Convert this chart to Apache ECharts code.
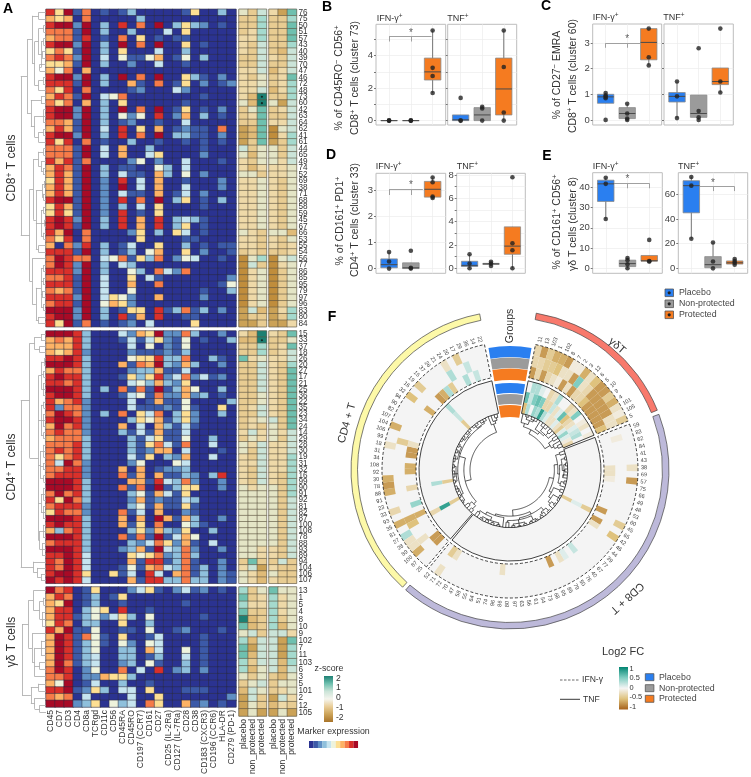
<!DOCTYPE html>
<html><head><meta charset="utf-8">
<script src="https://cdn.jsdelivr.net/npm/echarts@6/dist/echarts.min.js"></script>
<style>html,body{margin:0;background:#fff}#main{width:751px;height:777px}</style></head>
<body><div id="main"></div>
<script>
const markers=['CD45','CD7','CD3','CD4','CD8a','TCRgd','CD11c','CD56','CD45RA','CD45RO','CD197 (CCR7)','CD161','CD27','CD25 (IL-2Ra)','CD127 (IL-7Ra)','CD28','CD38','CD183 (CXCR3)','CD196 (CCR6)','HLA-DR','CD279 (PD-1)'];
const zGroups=['placebo','non_protected','protected'];
const idsCD8=[76,75,50,51,57,43,40,39,70,47,46,72,48,73,60,42,63,64,62,41,61,44,65,49,74,52,69,38,71,68,58,59,45,67,66,53,55,54,56,77,86,85,95,79,97,96,83,80,84];
const idsCD4=[15,33,37,18,26,20,27,17,21,25,36,22,35,23,34,24,14,29,28,30,19,31,32,16,99,90,91,92,81,82,87,100,108,78,88,93,89,94,104,106,107];
const idsGD=[13,1,5,4,8,10,9,102,7,11,103,6,3,5,101,2,12,105];
// marker expression level per cell (0 = lowest … a = highest)
const markerCD8=['96a180101300000160030','767080000030000000000','9aa2a0309080a03632010','8881a0300300040600000','788190108060101100000','9aa2a030a080a00601000','6861a0306000400300000','8982a0405115701503000','6671a0300200400100000','758070000000000000000','9aa2a030a080a00631020','9991a0300710801602012','869080000120004200000','7981a0458000000001000','868070306000000100000','9aa2a030a080a01601020','9aa2a0305250902703010','8871a0301200100400000','7971a0409060701211080','9aa2a0309080a03311020','969080100300100101010','8881a0407003000001000','8881a0407004600002000','979180000250200400010','7981a0301100530400000','7971a0304110730502000','6971a0209040700100020','7971a020a040700400020','7971a0204110701402000','9aa1a0209080a03601030','6971a0203040600001000','6961a0209010600000000','9a92a0309070903431000','9a91a0309070903601000','97a080000260306401000','869080000060000110000','708290301400600301011','9991a0301305700602001','8a9880458163802540010','8a92a0304300000000000','9992a0300530842800000','8891a0400604100000002','9991a0400700800000015','8781a0400500000001003','9992a0465200700002000','8991a0576200000000000','aaa2a0301660913813020','9aa2a0309170900110000','96a180101204000060000'];
const markerCD4=['aaa930004276a22830020','787930001414621501003','777930000405021500000','767920000211121300000','99a930000566933800310','aaa930007187a32730020','798830000233711400000','9a9930001636924824120','998930000453732600000','aaa930308181a13750030','9aa930001451822723010','978920000401711500003','928820000411121510060','8a9820308064803620030','9aa920000365713620000','7a8920007040731410000','898820003141711400000','788830000314611500300','888930000316841800400','898930000312770400010','868930000416032700400','84a820000250005400000','889920007070122300000','899920008170711320390','aaa930000771943820020','aaa930008180a13660020','8a8930000351741600000','96a830000271211430000','899920000351711610000','698820008140700210000','aaa930007070a71730020','9a9930007160800531000','738930000362732600300','aaa930008181a14750000','899930000324862710400','aaa930002371a43820020','99a940000656823830000','98a940000719913810020','98a940001517843813020','9aa960061409407813021','a9a940000719933833021'];
const markerGD=['a89016000246102412010','798013016000000000000','76a013001000000100000','799035609001000000000','799135246305000001000','698033006003000000000','97a115001105001200010','7a9185106001400001000','7a9135105205400001000','7a9135003307400501000','7a9134003301300401000','7a8134002305100301000','8a9025008040902302000','889022766300000000000','75a014003001000000000','99a126304406000111000','878040000400600000002','aaa236053408600712010'];
// z-score level per cell, 0 = -2 … 9 = +2 (IFN placebo/non/prot then TNF placebo/non/prot)
const zCD8=['536418','337337','337338','347338','447338','436337','436326','336436','336336','446246','435348','445347','446247','429337','529516','358346','348336','338446','128056','128047','138137','635536','525536','435546','424445','553445','445435','445435','445435','445435','445435','445435','445435','445435','543552','443435','443434','343334','057056','063045','045035','045035','045035','045035','045035','045035','162147','133137','113114'];
const zCD4=['429438','229335','337348','337346','845446','336437','336438','336438','336438','336438','335438','335438','346438','336438','345638','343538','464546','354536','546446','536446','436447','446447','436447','436437','436437','545537','555537','555536','555536','555536','555536','555536','555536','555536','555536','554436','554436','383363','461433','542533','542433'];
const zGD=['735855','834745','744745','833745','923735','823725','563664','726618','816617','826617','736627','725626','535325','356355','265345','163164','153243','151151'];
const sigCD8=[[2,13],[2,14]];
const sigCD4=[[2,1]];
// dendrograms: [height, child, child, ...], 0 = leaf
const treeCD8=[1,[.75,[.55,[.3,0,0],[.45,[.3,[.1,0,0],[.2,[.1,0,0],[.15,0,0],[.25,0,0]]],[.3,[.12,0,0],0]]],[.6,[.2,0,0],[.45,[.1,0,0,0],[.3,[.1,0,0],0]]]],[.65,[.5,[.3,[.1,0,0],[.2,0,[.12,0,0]]],[.4,[.15,[.08,0,0],[.1,0,0]],[.2,[.1,0,0],[.05,0,0],[.1,0,0]],[.3,0,0]]],[.55,0,[.4,[.2,[.1,0,0],[.12,0,0],[.15,0,0],[.1,0,0]],[.3,0,0]]]]];
const treeCD4=[1,[.65,[.45,[.2,0,0],[.25,0,0]],[.3,[.18,[.08,0,0],[.1,0,0],[.12,0,0,0]],[.2,[.1,0,0],[.12,0,0,0],[.1,0,0]],[.22,[.1,0,0,0],[.12,0,0],[.1,0,0]],[.2,[.1,0,0,0],[.12,0,0,0]],[.25,[.12,0,0,0],[.15,0,0,0]]]],[.5,0,[.35,0,[.2,0,0]]]];
const treeGD=[.95,[.7,[.5,0,[.25,[.1,0,0],[.15,0,0,0]]],[.55,0,[.45,[.2,0,0,0],[.25,0,0],0]]],[.6,[.3,0,0],[.45,0,[.25,0,0]]]];
// box panels: [min,q1,median,q3,max] per group; points per group
const groupNames=['Placebo','Non-protected','Protected'];
const boxBI=[[0,0,0,0,0],[0,0,0,0,0],[1.7,2.5,3,3.85,5.55]], ptsBI=[[0,0,0],[0,0,0],[1.7,2.75,3.25,5.55]];
const boxBT=[[0,0,.05,.35,.35],[0,0,.35,.8,.85],[0,.35,1.95,3.85,5.55]], ptsBT=[[0,0,1.4],[0,.75,.85],[0,.5,3.3,5.55]];
const boxCI=[[.65,.65,.9,1,1.05],[0,.05,.25,.48,.63],[2.13,2.35,3.03,3.57,3.57]], ptsCI=[[0,.85,.9,.95,1.05],[0,.05,.25,.63],[2.13,2.45,3.57]];
const boxCT=[[.07,.7,.92,1.07,1.5],[0,.1,.25,.97,.97],[1.07,1.38,1.5,2.03,2.03]], ptsCT=[[.07,.92,1.5],[0,.1,.35,2.8],[1.07,1.5,3.57]];
const boxDI=[[0,.03,.15,.37,.63],[0,0,.03,.22,.22],[2.7,2.73,3.03,3.33,3.48]], ptsDI=[[0,.27,.63],[0,.03,.68],[2.7,2.75,3.3,3.48]];
const boxDT=[[0,.15,.25,.6,1.2],[.2,.33,.38,.42,.55],[0,1.2,1.9,3.55,3.55]], ptsDT=[[0,.4,1.2],[.2,.4,.55],[0,1.55,2.15,7.8]];
const boxEI=[[24.3,33,41.7,43.5,44.7],[0,.8,2.3,4,5],[3.3,3.5,3.7,6.3,6.3]], ptsEI=[[24.3,41.7,44.7],[0,2,4,5],[3.3,3.5,14]];
const boxET=[[24,45,67,71,74],[0,.5,3,9.5,21],[3,3.5,4.5,6,7.5]], ptsET=[[24,67,74],[0,5.5,21],[3,4.5,6,7.5]];
// circular panel: cluster order and log2 FC
const circGD=[11,13,103,1,102,8,7,2,3,12,6,5,10,9,4,101,105,5];
const circCD8=[59,83,62,84,41,43,38,69,57,75,66,49,48,53,60,45,65,42,46,44,39,77,67,40,76,50,79,85,95,68,73,54,61,56,63,97,80,86,96,74,51,64,55,58,47,70,72,71,52];
const circCD4=[25,87,100,89,28,27,81,35,93,33,23,91,88,78,30,92,108,34,31,18,99,106,104,107,82,90,94,32,16,19,15,37,26,21,24,20,17,29,36,14,22];
const fcIfnGD=[[-.3,-.3,-.7],[-.7,-.3,-.3],[-.4,-.4,-.7],[-.6,-.4,-.3],[-.6,-.5,-.2],[-.7,-.2,-.1],[-.1,-.2,-.7],[-.1,-.7,-.2],[-.6,.5,-.7],[-.2,-.2,-.3],[-.5,-.3,-.3],[-.7,-.7,-.5],[-.7,-.7,-.7],[-.4,-.7,-.7],[-.6,-.7,-.7],[-.2,-.7,-.7],[-.1,-.2,-.7],[-.4,-.2,-.5]];
const fcTnfGD=[[0,.6,-.5],[.3,.2,.3],[.3,.5,0],[.1,.6,.4],[0,.5,.3],[-.3,-.3,.8],[-.2,-.3,.3],[.3,.2,.1],[0,-.2,-.2],[0,.1,-.2],[-.3,.6,.1],[-.2,-.5,-.2],[.5,-.3,-.4],[0,-.2,.1],[-.1,.1,.4],[-.2,.2,.1],[0,.3,-.1],[-.1,0,-.3]];
const fcIfnCD8=[[1,1,-.1],[6,2,-.2],[7,2,-.2],[8,2,-.1],[6,0,-.2],[8,0,-.7],[15,0,-.4],[17,0,-.5],[14,2,-.7],[16,2,-.7],[17,2,-.2],[23,2,.2],[28,2,-.7],[26,2,-.2],[25,2,.1],[37,2,-.2],[46,2,-.2],[47,2,-.4],[47,0,-.2]];
const fcTnfCD8=[[15,2,-.4],[15,1,.1],[15,0,-.4]];
const fcIfnCD4=[[1,2,-.7],[2,2,-.7],[2,0,-.6],[3,1,-.2],[3,0,-.2],[5,0,.3],[4,0,-.2],[7,0,-.6],[7,2,-.6],[7,1,-.6],[6,1,-.5],[9,0,-.3],[9,2,.4],[12,0,-.6],[13,0,-.7],[14,0,-.6],[12,2,-.3],[15,2,-.6],[16,2,-.6],[18,2,-.7],[19,2,-.7],[19,0,-.2],[20,1,-.4],[20,2,-.2],[22,0,-.6],[27,2,-.6],[27,0,-.5],[29,0,-.4],[30,2,-.7],[31,2,-.6],[34,0,-.2],[36,0,-.4],[34,1,.3],[37,1,.2],[36,2,.3],[38,2,.2],[33,2,-.4],[32,2,.3]];
const fcTnfCD4=[[30,0,.3],[30,1,.2],[30,2,-.4],[12,1,.3],[12,2,-.4],[6,0,-.3],[6,1,.8],[6,2,-.4]];

const markerPalette=['#2b3391','#3c5aa8','#5f8fc4','#8fc0dc','#c6e4ef','#eef3dc','#fddf93','#fdb265','#f67b48','#d9302a','#a80a26'];
const zPalette=['#c08d3c','#cba257','#e0bb78','#e8cc92','#eed9a8','#e4e5c6','#cbe4d8','#a5dace','#6fc0af','#1d8073'];
const fcStops=['#a6611a','#dfc27d','#f5f5f5','#80cdc1','#018571'];
const groupCol=['#2a7ff0','#9b9b9b','#f57b20'];
const FONT='"Liberation Sans",Arial,sans-serif';

const grids=[],xAxes=[],yAxes=[],series=[],graphics=[];
const markerSeries=[],zSeries=[];
function addGrid(g,x,y){grids.push(g);x.gridIndex=y.gridIndex=grids.length-1;xAxes.push(x);yAxes.push(y);return grids.length-1;}
const catAxis=(data,extra)=>Object.assign({type:'category',data,axisLine:{show:false},axisTick:{show:false},splitLine:{show:false},axisLabel:{show:false}},extra||{});
function toCells(rows){const out=[];rows.forEach((s,r)=>[...s].forEach((ch,c)=>out.push([c,r,parseInt(ch,16)])));return out;}
function treeSegs(tree){let n=0;const segs=[];(function walk(t){if(t===0){const p=n+.5;n++;return{h:0,p};}
  const k=t.slice(1).map(walk),h=t[0],p=(k[0].p+k[k.length-1].p)/2;
  segs.push([h,k[0].p,h,k[k.length-1].p]);k.forEach(c=>segs.push([c.h,c.p,h,c.p]));return{h,p};})(tree);return{segs,n};}

function heatBlock(top,height,ids,mk,z,tree,showX,sig){
  const nm=ids.length,rows=ids.map(String);
  const border={show:true,borderColor:'#b9b9b9',borderWidth:1,backgroundColor:'#fff'};
  let g=addGrid(Object.assign({left:46,top,width:190,height},border),catAxis(markers,showX?{axisLabel:{show:true,rotate:90,interval:0,fontSize:8.6,color:'#333',margin:3,fontFamily:FONT}}:{}),catAxis(rows,{inverse:true}));
  series.push({type:'heatmap',xAxisIndex:g,yAxisIndex:g,data:toCells(mk),silent:true,itemStyle:{borderColor:'#2a2a40',borderWidth:.5}});markerSeries.push(series.length-1);
  const zSplit=[z.map(s=>s.slice(0,3)),z.map(s=>s.slice(3))];
  [[239,zSplit[0]],[269,zSplit[1]]].forEach(([left,rowsZ],i)=>{
    const yax=catAxis(rows,{inverse:true});
    if(i===1){yax.position='right';yax.axisLabel={show:true,interval:0,fontSize:8.2,color:'#333',margin:2,fontFamily:FONT};}
    const gi=addGrid(Object.assign({left,top,width:27.5,height},border),catAxis(zGroups,showX?{axisLabel:{show:true,rotate:90,interval:0,fontSize:8.6,color:'#333',margin:3,fontFamily:FONT}}:{}),yax);
    series.push({type:'heatmap',xAxisIndex:gi,yAxisIndex:gi,data:toCells(rowsZ),silent:true,itemStyle:{borderColor:'#5f5843',borderWidth:.6}});zSeries.push(series.length-1);
    if(i===0&&sig&&sig.length)series.push({type:'scatter',xAxisIndex:gi,yAxisIndex:gi,data:sig,symbolSize:2.2,silent:true,itemStyle:{color:'#111'},z:5});
  });
  const t=treeSegs(tree);
  const gd=addGrid({left:20,top,width:26,height,show:false},{type:'value',min:0,max:1.03,inverse:true,show:false},{type:'value',min:0,max:nm,inverse:true,show:false});
  series.push({type:'lines',coordinateSystem:'cartesian2d',xAxisIndex:gd,yAxisIndex:gd,silent:true,clip:false,lineStyle:{color:'#a8a8a8',width:.8,opacity:1},data:t.segs.map(s=>({coords:[[s[0],s[1]],[s[2],s[3]]]}))});
}
heatBlock(9.3,317.4,idsCD8,markerCD8,zCD8,treeCD8,false,sigCD8);
heatBlock(331,252.3,idsCD4,markerCD4,zCD4,treeCD4,false,sigCD4);
heatBlock(587,129,idsGD,markerGD,zGD,treeGD,true,null);

function boxPanel(o){
  const minors=o.ticks.concat(o.minor||[]);
  const g=addGrid({left:o.x,top:o.y,width:o.w,height:o.h,show:true,borderColor:'#bdbdbd',borderWidth:1,backgroundColor:'#fff'},
    {type:'value',min:.4,max:3.6,axisLine:{show:false},axisTick:{show:false,customValues:[1,2,3]},axisLabel:{show:false,customValues:[1,2,3]},splitLine:{show:true,lineStyle:{color:'#ededed',width:.7}}},
    {type:'value',min:o.min,max:o.max,axisLine:{show:false},axisTick:{show:true,length:2,lineStyle:{color:'#777'},customValues:minors},splitLine:{show:true,lineStyle:{color:'#ededed',width:.7}},
     axisLabel:{show:!!o.labels,customValues:o.ticks,fontSize:9.5,color:'#444',margin:3,fontFamily:FONT}});
  series.push({type:'custom',xAxisIndex:g,yAxisIndex:g,silent:true,z:3,clip:false,
    data:o.box.map((b,i)=>[i+1,...b]),
    renderItem(p,api){const x=api.value(0),P=(a,v)=>api.coord([a,v]);const w=.38;
      const q1=P(x-w,api.value(2)),q3=P(x+w,api.value(4));const col=groupCol[x-1];
      const seg=(a,b,s,l)=>({type:'line',shape:{x1:a[0],y1:a[1],x2:b[0],y2:b[1]},style:{stroke:s,lineWidth:l}});
      return{type:'group',children:[seg(P(x,api.value(1)),P(x,api.value(5)),'#666',.9),
        {type:'rect',shape:{x:q1[0],y:q3[1],width:q3[0]-q1[0],height:q1[1]-q3[1]},style:{fill:col,stroke:'#8a8a8a',lineWidth:.8}},
        seg(P(x-w,api.value(3)),P(x+w,api.value(3)),'#4a4a4a',1)]};}});
  const pts=[];o.pts.forEach((a,i)=>a.forEach(v=>pts.push([i+1,v])));
  series.push({type:'scatter',xAxisIndex:g,yAxisIndex:g,data:pts,symbolSize:4.6,silent:true,z:4,clip:false,itemStyle:{color:'#222'}});
  if(o.br){const b=o.br;series.push({type:'lines',coordinateSystem:'cartesian2d',xAxisIndex:g,yAxisIndex:g,silent:true,z:2,lineStyle:{color:'#a0a0a0',width:1,opacity:1},
     data:[[[b.x1,b.y],[b.x2,b.y]],...b.ticks.map(t=>[[t,b.y],[t,b.low]])].map(c=>({coords:c}))});
    series.push({type:'scatter',xAxisIndex:g,yAxisIndex:g,data:[b.star],symbolSize:1,silent:true,z:5,itemStyle:{color:'transparent'},label:{show:true,formatter:'*',position:'inside',fontSize:10,color:'#333',fontFamily:FONT}});}
}
boxPanel({x:376,y:24.3,w:69.7,h:100.7,min:-.27,max:5.93,ticks:[0,2,4],minor:[1,3,5],labels:1,box:boxBI,pts:ptsBI,br:{x1:1,x2:2.95,y:5.21,low:4.87,ticks:[1,2],star:[2,5.4]}});
boxPanel({x:447.7,y:24.3,w:69,h:100.7,min:-.27,max:5.93,ticks:[0,2,4],minor:[1,3,5],box:boxBT,pts:ptsBT});
boxPanel({x:592.7,y:24,w:69,h:101,min:-.2,max:3.75,ticks:[0,1,2,3],labels:1,box:boxCI,pts:ptsCI,br:{x1:1,x2:2.6,y:3,low:2.82,ticks:[1,2],star:[2,3.17]}});
boxPanel({x:664,y:24,w:69.3,h:101,min:-.2,max:3.75,ticks:[0,1,2,3],box:boxCT,pts:ptsCT});
boxPanel({x:376,y:173.3,w:69.7,h:100,min:-.18,max:3.64,ticks:[0,1,2,3],labels:1,box:boxDI,pts:ptsDI,br:{x1:1,x2:2.55,y:3.03,low:2.81,ticks:[1,2],star:[2,3.2]}});
boxPanel({x:456.7,y:173.3,w:68.6,h:100,min:-.43,max:8.14,ticks:[0,2,4,6,8],minor:[1,3,5,7],labels:1,box:boxDT,pts:ptsDT});
boxPanel({x:592.7,y:172.7,w:69.6,h:100.6,min:-2.5,max:47.2,ticks:[0,10,20,30,40],labels:1,box:boxEI,pts:ptsEI,br:{x1:1.35,x2:3,y:42,low:39.5,ticks:[2,3],star:[2,44]}});
boxPanel({x:678.3,y:172.7,w:69.4,h:100.6,min:-4,max:77.5,ticks:[0,20,40,60],labels:1,box:boxET,pts:ptsET,br:{x1:1.4,x2:3,y:66.2,low:62.6,ticks:[2,3],star:[2,69]}});

// ---------- circular panel ----------
const A0={gd:11.5,cd8:69,cd4:220.8},A1={gd:67.5,cd8:219.6,cd4:348.5};
const blocks=[['gd',circGD,treeGD],['cd8',circCD8,treeCD8],['cd4',circCD4,treeCD4]];
const stepOf=k=>(A1[k]-A0[k])/({gd:circGD,cd8:circCD8,cd4:circCD4}[k].length);
const ifnR=[128,116.7,105.3,94],tnfR=[91,79.9,68.8,57.7];
const fcCells=[];
function pushCell(k,pos,t,v,R){const s=stepOf(k),a=A0[k]+s*pos;fcCells.push([a,a+s,R[t+1],R[t],v]);}
fcIfnGD.forEach((r,p)=>r.forEach((v,t)=>v&&pushCell('gd',p,t,v,ifnR)));
fcTnfGD.forEach((r,p)=>r.forEach((v,t)=>v&&pushCell('gd',p,t,v,tnfR)));
fcIfnCD8.forEach(c=>pushCell('cd8',c[0],c[1],c[2],ifnR));
fcTnfCD8.forEach(c=>pushCell('cd8',c[0],c[1],c[2],tnfR));
fcIfnCD4.forEach(c=>pushCell('cd4',c[0],c[1],c[2],ifnR));
fcTnfCD4.forEach(c=>pushCell('cd4',c[0],c[1],c[2],tnfR));
const rad=a=>(a-90)*Math.PI/180;
function sectorEl(api,a0,a1,r0,r1,style){const c=api.coord([0,0]),e=api.coord([1,0]);const u=Math.hypot(e[0]-c[0],e[1]-c[1]);
  return{type:'sector',shape:{cx:c[0],cy:c[1],r0:r0*u,r:r1*u,startAngle:rad(a0),endAngle:rad(a1),clockwise:true},style};}
const polarBase={type:'custom',coordinateSystem:'polar',silent:true,clip:false};
const ringBg=[];blocks.forEach(([k])=>{ringBg.push([A0[k],A1[k],ifnR[3],ifnR[0],1]);ringBg.push([A0[k],A1[k],tnfR[3],tnfR[0],0]);});
series.push(Object.assign({},polarBase,{z:1,data:ringBg,renderItem(p,api){return sectorEl(api,api.value(0),api.value(1),api.value(2),api.value(3),{fill:'#f4f4f4'});}}));
series.push(Object.assign({},polarBase,{z:2,data:fcCells,renderItem(p,api){const t=(api.value(4)+1)/2;return sectorEl(api,api.value(0),api.value(1),api.value(2),api.value(3),{fill:echarts.color.lerp(t,fcStops)});}}));
series.push(Object.assign({},polarBase,{z:3,data:ringBg,renderItem(p,api){const d=api.value(4);return sectorEl(api,api.value(0),api.value(1),api.value(2),api.value(3),{fill:'none',stroke:'#111',lineWidth:.8,lineDash:d?[3,2]:null});}}));
// group arcs
const arcs=[[222.5,349,0],[9.5,67.9,1],[69.5,221,2]],arcCol=['#fdf9a8','#f8796c','#bdb9da'];
series.push(Object.assign({},polarBase,{z:3,data:arcs,renderItem(p,api){return sectorEl(api,api.value(0),api.value(1),152.5,159,{fill:arcCol[api.value(2)],stroke:'#444',lineWidth:.7});}}));
// group wedges
const wedges=[[113,124,0],[102,112.5,1],[90,101.5,2],[77,87,0],[66,76,1],[53,65,2]];
series.push(Object.assign({},polarBase,{z:3,data:wedges,renderItem(p,api){return sectorEl(api,350,370,api.value(0),api.value(1),{fill:groupCol[api.value(2)]});}}));
// cluster labels
const circLabels=[];blocks.forEach(([k,ids])=>ids.forEach((id,i)=>circLabels.push([A0[k]+stepOf(k)*(i+.5),id])));
series.push(Object.assign({},polarBase,{z:4,data:circLabels,renderItem(p,api){const a=api.value(0),pt=api.coord([131,a]),left=a>180;
  return{type:'text',x:pt[0],y:pt[1],rotation:(left?270-a:90-a)*Math.PI/180,style:{text:String(api.value(1)),fontSize:5.6,fill:'#444',fontFamily:FONT,align:left?'right':'left',verticalAlign:'middle'}};}}));
// radial dendrograms
const circSegs=[];blocks.forEach(([k,ids,tree])=>{const s=stepOf(k);treeSegs(tree).segs.forEach(g=>circSegs.push([57.5-g[0]*17.5,A0[k]+s*g[1],57.5-g[2]*17.5,A0[k]+s*g[3]]));});
series.push(Object.assign({},polarBase,{z:4,data:circSegs,renderItem(p,api){const r1=api.value(0),a1=api.value(1),r2=api.value(2),a2=api.value(3);const pts=[];
  if(r1===r2){const n=Math.max(1,Math.ceil(Math.abs(a2-a1)/1.5));for(let i=0;i<=n;i++)pts.push(api.coord([r1,a1+(a2-a1)*i/n]));}else{pts.push(api.coord([r1,a1]),api.coord([r2,a2]));}
  return{type:'polyline',shape:{points:pts},style:{stroke:'#111',lineWidth:.7,fill:'none'}};}}));

// ---------- annotations ----------
function T(text,x,y,size,o){o=o||{};const st={text,fontSize:size,fontFamily:FONT,fill:o.color||'#333',fontWeight:o.weight||'normal',align:o.align||'center',verticalAlign:'middle'};
  const sup={fontSize:size*.72,fontFamily:FONT,fill:o.color||'#333',verticalAlign:'top',lineHeight:size*1.2};
  st.rich={s:sup};st.lineHeight=size*1.2;
  graphics.push({type:'text',x,y,rotation:(o.rot||0)*Math.PI/180,silent:true,z:10,style:st});}
const R=(x,y,w,h,fill,stroke)=>graphics.push({type:'rect',silent:true,z:10,shape:{x,y,width:w,height:h},style:{fill,stroke:stroke||null,lineWidth:stroke?.8:0}});
[['A',8,9],['B',327,7],['C',546,6],['D',331,155],['E',547,156],['F',332,317]].forEach(a=>T(a[0],a[1],a[2],14,{weight:'bold',color:'#000'}));
T('CD8{s|+} T cells',12,168,12,{rot:90});T('CD4{s|+} T cells',12,467,12,{rot:90});T('γδ T cells',12,642,12,{rot:90});
[['IFN-γ{s|+}',376.7,19],['TNF{s|+}',447.3,19],['IFN-γ{s|+}',592.7,18],['TNF{s|+}',663.3,18],['IFN-γ{s|+}',375.7,167],['TNF{s|+}',456.7,167],['IFN-γ{s|+}',592.7,167],['TNF{s|+}',678,167]].forEach(a=>T(a[0],a[1],a[2],9,{align:'left'}));
[['% of CD45RO{s|−} CD56{s|+}',339,78],['CD8{s|+} T cells (cluster 73)',355,78],['% of CD27{s|−} EMRA',557,75],['CD8{s|+} T cells (cluster 60)',572.7,76],['% of CD161{s|+} PD1{s|+}',340,221],['CD4{s|+} T cells (cluster 33)',355,220],['% of CD161{s|+} CD56{s|+}',557,222],['γδ T cells (cluster 8)',572.7,224]].forEach(a=>T(a[0],a[1],a[2],10.5,{rot:90}));
groupNames.forEach((n,i)=>{const y=[289,300,311][i];R(665,y,8.5,7.6,groupCol[i],'#555');graphics.push({type:'circle',silent:true,z:11,shape:{cx:669.2,cy:y+3.8,r:1.6},style:{fill:'#222'}});T(n,679,y+4,8.8,{align:'left',color:'#444'});});
T('Groups',510,326,10.5,{rot:90});
T('CD4 + T',347,423,11,{rot:74});T('γδT',617,346,11,{rot:-40.6});T('CD8 + T',627,598,11,{rot:-137.8});
// z-score legend
T('z-score',329,669,8.8);
const grad=c=>new echarts.graphic.LinearGradient(0,0,0,1,c.map((col,i)=>({offset:i/(c.length-1),color:col})));
R(324,676,9,46,grad(['#1d8073','#6fc0af','#cbe4d8','#f5f5ee','#e9cd97','#cba257','#a9742a']));
[['2',679],['1',688],['0',697.7],['-1',707.6],['-2',718]].forEach(a=>T(a[0],336,a[1],8.6,{align:'left'}));
T('Marker expression',333.5,732,8.8);
markerPalette.forEach((c,i)=>R(309+i*4.45,741,4.55,7,c));
// log2 FC legend
T('Log2 FC',623,652,11);
graphics.push({type:'line',silent:true,z:10,shape:{x1:560,y1:680,x2:580,y2:680},style:{stroke:'#444',lineWidth:.8,lineDash:[2.5,1.5]}});
graphics.push({type:'line',silent:true,z:10,shape:{x1:560,y1:699.3,x2:580,y2:699.3},style:{stroke:'#222',lineWidth:.9}});
T('IFN-γ',582,680,8.6,{align:'left'});T('TNF',583,699.5,8.6,{align:'left'});
R(619,667,9,42.5,grad(['#018571','#80cdc1','#f5f5f5','#dfc27d','#a6611a']));
[['1',669],['0.5',678],['0',688],['-0.5',697],['-1',706.7]].forEach(a=>T(a[0],629.5,a[1],7.4,{align:'left'}));
groupNames.forEach((n,i)=>{const y=[673.7,684.7,695.3][i];R(645.3,y,8.6,7,groupCol[i],'#555');T(n,659,y+3.5,8.8,{align:'left',color:'#444'});});

const chart=echarts.init(document.getElementById('main'));
chart.setOption({animation:false,textStyle:{fontFamily:FONT},
  grid:grids,xAxis:xAxes,yAxis:yAxes,
  polar:{center:[510,470],radius:176},
  angleAxis:{type:'value',min:0,max:360,startAngle:90,clockwise:true,show:false},
  radiusAxis:{type:'value',min:0,max:176,show:false},
  visualMap:[{type:'continuous',show:false,min:0,max:10,dimension:2,seriesIndex:markerSeries,inRange:{color:markerPalette}},
             {type:'continuous',show:false,min:0,max:9,dimension:2,seriesIndex:zSeries,inRange:{color:zPalette}}],
  series,graphic:{elements:graphics}});
</script></body></html>
